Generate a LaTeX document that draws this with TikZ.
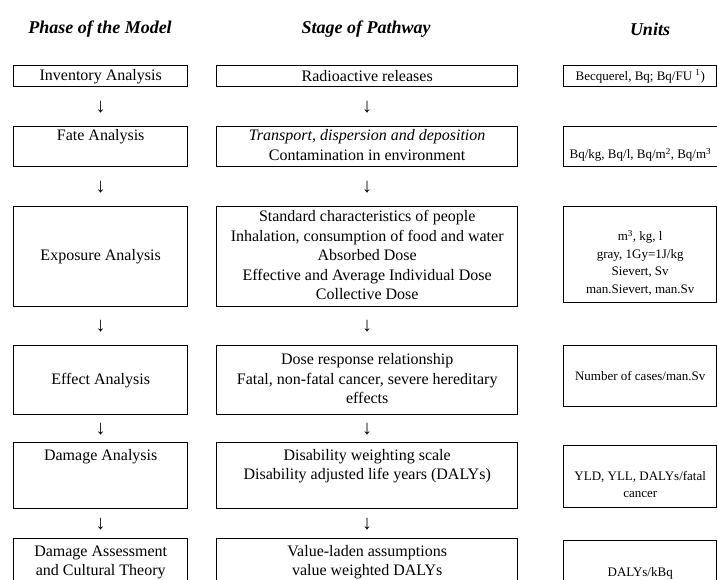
\documentclass[tikz,border=0pt]{standalone}
\usepackage{fontspec}
\setmainfont{Liberation Serif}
\usepackage{tikz}

\begin{document}
\begin{tikzpicture}[x=1pt, y=-1pt,
		box/.style={draw, line width=1.4pt, inner sep=0pt, anchor=north west},
		phase/.style={box, minimum width=174pt, font=\fontsize{16}{19.5}\selectfont},
		stage/.style={box, minimum width=301pt, font=\fontsize{16}{19.5}\selectfont},
		unit/.style={box, minimum width=153pt, font=\fontsize{13}{17.5}\selectfont},
		head/.style={font=\fontsize{18}{22}\selectfont\bfseries\itshape},
		down/.style={midway, font=\fontsize{20}{24}\selectfont}]
		\useasboundingbox (0,0) rectangle (717,579);
		\clip (0,0) rectangle (717,579);
		\node[head] (hphase) at (100,29){Phase of the Model};
		\node[head] (hstage) at (366,29){Stage of Pathway};
		\node[head] (hunit) at (650,29){Units};
		% phase of the model
		\node[phase, minimum height=21pt] (inv) at (13,65){Inventory Analysis};
		\node[phase, minimum height=40pt] (fate) at (13,126){\begin{tabular}{c}
			Fate Analysis\\
			\mbox{}
			\end{tabular}};
		\node[phase, minimum height=100pt] (expo) at (13,206){Exposure Analysis};
		\node[phase, minimum height=69pt] (effect) at (13,345){Effect Analysis};
		\node[phase, minimum height=66pt] (damage) at (13,442){\begin{tabular}{c}
			Damage Analysis\\
			\mbox{}\\
			\mbox{}
			\end{tabular}};
		\node[phase, minimum height=66pt] (assess) at (13,538){\begin{tabular}{c}
			Damage Assessment\\
			and Cultural Theory\\
			\mbox{}
			\end{tabular}};
		% stage of pathway
		\node[stage, minimum height=21pt] (rel) at (216,65){Radioactive releases};
		\node[stage, minimum height=40pt] (trans) at (216,126){\begin{tabular}{c}
			\textit{Transport, dispersion and deposition}\\
			Contamination in environment
			\end{tabular}};
		\node[stage, minimum height=100pt] (dose) at (216,206){\begin{tabular}{c}
			Standard characteristics of people\\
			Inhalation, consumption of food and water\\
			Absorbed Dose\\
			Effective and Average Individual Dose\\
			Collective Dose
			\end{tabular}};
		\node[stage, minimum height=69pt] (resp) at (216,345){\begin{tabular}{c}
			Dose response relationship\\
			Fatal, non-fatal cancer, severe hereditary\\
			effects
			\end{tabular}};
		\node[stage, minimum height=66pt] (daly) at (216,442){\begin{tabular}{c}
			Disability weighting scale\\
			Disability adjusted life years (DALYs)\\
			\mbox{}
			\end{tabular}};
		\node[stage, minimum height=66pt] (value) at (216,538){\begin{tabular}{c}
			Value-laden assumptions\\
			value weighted DALYs\\
			\mbox{}
			\end{tabular}};
		% units
		\node[unit, minimum height=21pt] (u1) at (563,65){Becquerel, Bq; Bq/FU \textsuperscript{1})};
		\node[unit, minimum height=40pt] (u2) at (563,126){\begin{tabular}{c}
			\mbox{}\\
			Bq/kg, Bq/l, Bq/m\textsuperscript{2}, Bq/m\textsuperscript{3}
			\end{tabular}};
		\node[unit, minimum height=96pt] (u3) at (563,206){\begin{tabular}{c}
			\mbox{}\\
			m\textsuperscript{3}, kg, l\\
			gray, 1Gy=1J/kg\\
			Sievert, Sv\\
			man.Sievert, man.Sv
			\end{tabular}};
		\node[unit, minimum height=61pt] (u4) at (563,345){Number of cases/man.Sv};
		\node[unit, minimum height=62pt] (u5) at (563,445){\begin{tabular}{c}
			\mbox{}\\
			YLD, YLL, DALYs/fatal\\
			cancer
			\end{tabular}};
		\node[unit, minimum height=64pt] (u6) at (563,540){\begin{tabular}{c}
			\mbox{}\\
			DALYs/kBq\\
			\mbox{}
			\end{tabular}};
		% arrows between the stages
		\path (inv.south) -- node[down]{↓} (fate.north);
		\path (fate.south) -- node[down]{↓} (expo.north);
		\path (expo.south) -- node[down]{↓} (effect.north);
		\path (effect.south) -- node[down]{↓} (damage.north);
		\path (damage.south) -- node[down]{↓} (assess.north);
		\path (rel.south) -- node[down]{↓} (trans.north);
		\path (trans.south) -- node[down]{↓} (dose.north);
		\path (dose.south) -- node[down]{↓} (resp.north);
		\path (resp.south) -- node[down]{↓} (daly.north);
		\path (daly.south) -- node[down]{↓} (value.north);
	\end{tikzpicture}
\end{document}
